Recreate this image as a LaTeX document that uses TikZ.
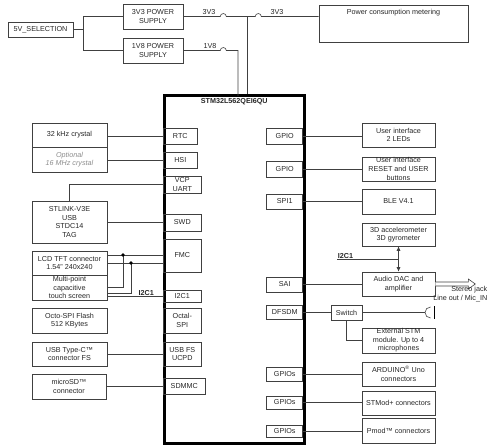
\documentclass[tikz,border=0pt]{standalone}
\usepackage{fontspec}
\setmainfont{Liberation Sans}
\usetikzlibrary{shapes,arrows,arrows.meta,calc}

\begin{document}
\begin{tikzpicture}[x=1pt, y=-1pt,
    blok/.style={draw=black!75, line width=0.6pt, align=center, inner sep=0pt, text=black!85, font=\fontsize{7.2}{8.6}\selectfont},
    ext/.style={blok, minimum width=75pt, minimum height=24pt},
    extr/.style={blok, minimum width=73pt, minimum height=24pt},
    port/.style={blok, minimum height=16pt},
    wire/.style={draw=black!75, line width=0.6pt},
    wlbl/.style={font=\fontsize{7.2}{8.6}\selectfont, text=black!85, inner sep=0.5pt},
    dot/.style={circle, fill=black, inner sep=0pt, minimum size=3.6pt}]
    \useasboundingbox (0,0) rectangle (503,446);

    % Napajanje
    \node[blok, minimum width=65pt, minimum height=15pt] (sel) at (40.5,29.5) {5V\_SELECTION};
    \node[blok, minimum width=60pt, minimum height=25pt] (ps33) at (153,16.5) {3V3 POWER\\SUPPLY};
    \node[blok, minimum width=60pt, minimum height=25pt] (ps18) at (153,50.5) {1V8 POWER\\SUPPLY};
    \node[blok, minimum width=149pt, minimum height=37pt] (meter) at (393.5,23.5) {};
    \node[wlbl, anchor=north] (metertxt) at ([yshift=-3.5pt]meter.north) {Power consumption metering};
    \coordinate (split) at (83,29.5);
    \draw[wire] (sel.east) -- (split);
    \draw[wire] (split |- ps33.west) -- (split |- ps18.west);
    \draw[wire] (split |- ps33.west) -- (ps33.west);
    \draw[wire] (split |- ps18.west) -- (ps18.west);

    % Mikrokontroler
    \node[draw, line width=3pt, minimum width=139.5pt, minimum height=347.5pt, inner sep=0pt] (chip) at (234.25,269.75) {};
    \node[wlbl, font=\fontsize{7.2}{8.6}\selectfont\bfseries, anchor=north] (chipname) at ([yshift=-3pt]chip.north) {STM32L562QEI6QU};

    % 3V3 i 1V8 linije
    \coordinate (j33) at (247,16.5);
    \coordinate (v18) at (238,96);
    \draw[wire] (ps33.east) -- ++(37,0) arc[start angle=180, end angle=360, radius=3] -- ++(29,0) arc[start angle=180, end angle=360, radius=3] -- (meter.west |- ps33.east);
    \draw[wire] (j33) -- (j33 |- chip.north);
    \draw[wire] (ps18.east) -- ++(37,0) arc[start angle=180, end angle=360, radius=3] -| (v18);
    \node[wlbl] (l33a) at (209,12.5) {3V3};
    \node[wlbl] (l33b) at (277,12.5) {3V3};
    \node[wlbl] (l18) at (210,46.5) {1V8};

    % Lijevi portovi
    \node[port, minimum width=34pt, anchor=west] (rtc) at (163,136) {RTC};
    \node[port, minimum width=34pt, anchor=west] (hsi) at (163,160) {HSI};
    \node[port, minimum width=38pt, minimum height=17pt, anchor=west] (vcp) at (163,184.5) {VCP\\UART};
    \node[port, minimum width=38pt, minimum height=17pt, anchor=west] (swd) at (163,222.5) {SWD};
    \node[port, minimum width=38pt, minimum height=33pt, anchor=west] (fmc) at (163,255.5) {FMC};
    \node[port, minimum width=38pt, minimum height=12pt, anchor=west] (i2cp) at (163,296) {I2C1};
    \node[port, minimum width=38pt, minimum height=25pt, anchor=west] (ospi) at (163,320.5) {Octal-\\SPI};
    \node[port, minimum width=38pt, minimum height=24pt, anchor=west] (usbp) at (163,354) {USB FS\\UCPD};
    \node[port, minimum width=42pt, anchor=west] (sdmmc) at (163,386) {SDMMC};

    % Lijeve komponente
    \node[ext] (xtal32) at (69.5,135) {32 kHz crystal};
    \node[ext, minimum height=25pt, text=black!45, font=\fontsize{7.2}{8.6}\selectfont\itshape] (xtal16) at (69.5,159.5) {Optional\\16 MHz crystal};
    \node[ext, minimum height=42pt] (stlink) at (69.5,222) {STLINK-V3E\\USB\\STDC14\\TAG};
    \node[ext] (lcd) at (69.5,263) {LCD TFT connector\\1.54” 240x240};
    \node[ext, minimum height=25pt] (touch) at (69.5,287.5) {Multi-point\\capacitive\\touch screen};
    \node[ext, minimum height=25pt] (flash) at (69.5,320.5) {Octo-SPI Flash\\512 KBytes};
    \node[ext] (usbc) at (69.5,354) {USB Type-C™\\connector FS};
    \node[ext, minimum width=74pt, minimum height=25pt] (sdcard) at (69,386.5) {microSD™\\connector};

    \draw[wire] (rtc.west -| xtal32.east) -- (rtc.west);
    \draw[wire] (hsi.west -| xtal16.east) -- (hsi.west);
    \draw[wire] (vcp.west) -| (stlink.north);
    \draw[wire] (swd.west -| stlink.east) -- (swd.west);
    \coordinate (d1) at (123,255);
    \coordinate (d2) at (131,263);
    \draw[wire] (d1 -| lcd.east) -- (d1 -| fmc.west);
    \draw[wire] (d2 -| lcd.east) -- (d2 -| fmc.west);
    \draw[wire] (touch.east) -| (d1);
    \draw[wire] ([yshift=-5.5pt]touch.east) -| (d2);
    \node[dot] (n1) at (d1) {};
    \node[dot] (n2) at (d2) {};
    \draw[wire] (i2cp.west -| touch.east) -- node[wlbl, pos=0.7, above, font=\fontsize{7.2}{8.6}\selectfont\bfseries] (i2cl) {I2C1} (i2cp.west);
    \draw[wire] (usbc.east) -- (usbp.west);
    \draw[wire] (sdmmc.west -| sdcard.east) -- (sdmmc.west);

    % Desni portovi
    \node[port, minimum width=36pt, anchor=east] (gpio1) at (303,136) {GPIO};
    \node[port, minimum width=36pt, anchor=east] (gpio2) at (303,169) {GPIO};
    \node[port, minimum width=36pt, minimum height=15pt, anchor=east] (spi) at (303,201.5) {SPI1};
    \node[port, minimum width=36pt, minimum height=15pt, anchor=east] (sai) at (303,284.5) {SAI};
    \node[port, minimum width=36pt, minimum height=14pt, anchor=east] (dfsdm) at (303,312.5) {DFSDM};
    \node[port, minimum width=36pt, minimum height=14pt, anchor=east] (gpios1) at (303,374) {GPIOs};
    \node[port, minimum width=36pt, minimum height=13pt, anchor=east] (gpios2) at (303,402.5) {GPIOs};
    \node[port, minimum width=36pt, minimum height=12pt, anchor=east] (gpios3) at (303,431) {GPIOs};

    % Desne komponente
    \node[extr] (leds) at (398.5,135) {User interface\\2 LEDs};
    \node[extr] (btns) at (398.5,169) {User interface\\RESET and USER\\buttons};
    \node[extr, minimum height=25pt] (ble) at (398.5,201.5) {BLE V4.1};
    \node[extr, minimum height=23pt] (imu) at (398.5,234.5) {3D accelerometer\\3D gyrometer};
    \node[extr] (dac) at (398.5,284) {Audio DAC and\\amplifier};
    \node[blok, minimum width=31pt, minimum height=15pt] (switch) at (346.5,312.5) {Switch};
    \node[extr, minimum height=25pt] (extmic) at (398.5,340.5) {External STM\\module. Up to 4\\microphones};
    \node[extr] (arduino) at (398.5,374) {ARDUINO\textsuperscript{®} Uno\\connectors};
    \node[extr] (stmod) at (398.5,403) {STMod+ connectors};
    \node[extr, minimum height=25pt] (pmod) at (398.5,430.5) {Pmod™ connectors};

    \draw[wire] (gpio1.east) -- (gpio1.east -| leds.west);
    \draw[wire] (gpio2.east) -- (btns.west);
    \draw[wire] (spi.east) -- (ble.west);
    \draw[wire] (sai.east) -- (sai.east -| dac.west);
    \coordinate (i2cr) at (337,259);
    \draw[wire] (i2cr) -- node[wlbl, pos=0, above right, font=\fontsize{7.2}{8.6}\selectfont\bfseries] (i2cl2) {I2C1} (i2cr -| imu.south);
    \draw[wire, {Latex[length=4.5pt,width=4pt]}-{Latex[length=4.5pt,width=4pt]}] (imu.south) -- (dac.north);
    \draw[wire] (dfsdm.east) -- (switch.west);
    \draw[wire] (switch.south) |- (extmic.west);
    \draw[wire] (gpios1.east) -- (arduino.west);
    \draw[wire] (gpios2.east) -- (gpios2.east -| stmod.west);
    \draw[wire] (gpios3.east) -- (gpios3.east -| pmod.west);

    % Mikrofon i stereo prikljucak
    \coordinate (mic) at (425,312.5);
    \draw[wire] (switch.east) -- (mic);
    \draw[wire] ([shift={(5.5,-5.5)}]mic) arc[start angle=270, end angle=90, radius=5.5];
    \draw[line width=1.8pt] ([shift={(9.5,-6.5)}]mic) -- ([shift={(9.5,6.5)}]mic);
    \draw[wire, fill=white] ([yshift=2pt]dac.east) -- ++(33,0) -- ++(0,-3) -- ++(7,5) -- ++(-7,5) -- ++(0,-3) -- ++(-33,0);
    \node[wlbl, align=right, anchor=north east] (jacktxt) at (488,286) {Stereo jack\\Line out / Mic\_IN};
\end{tikzpicture}
\end{document}
